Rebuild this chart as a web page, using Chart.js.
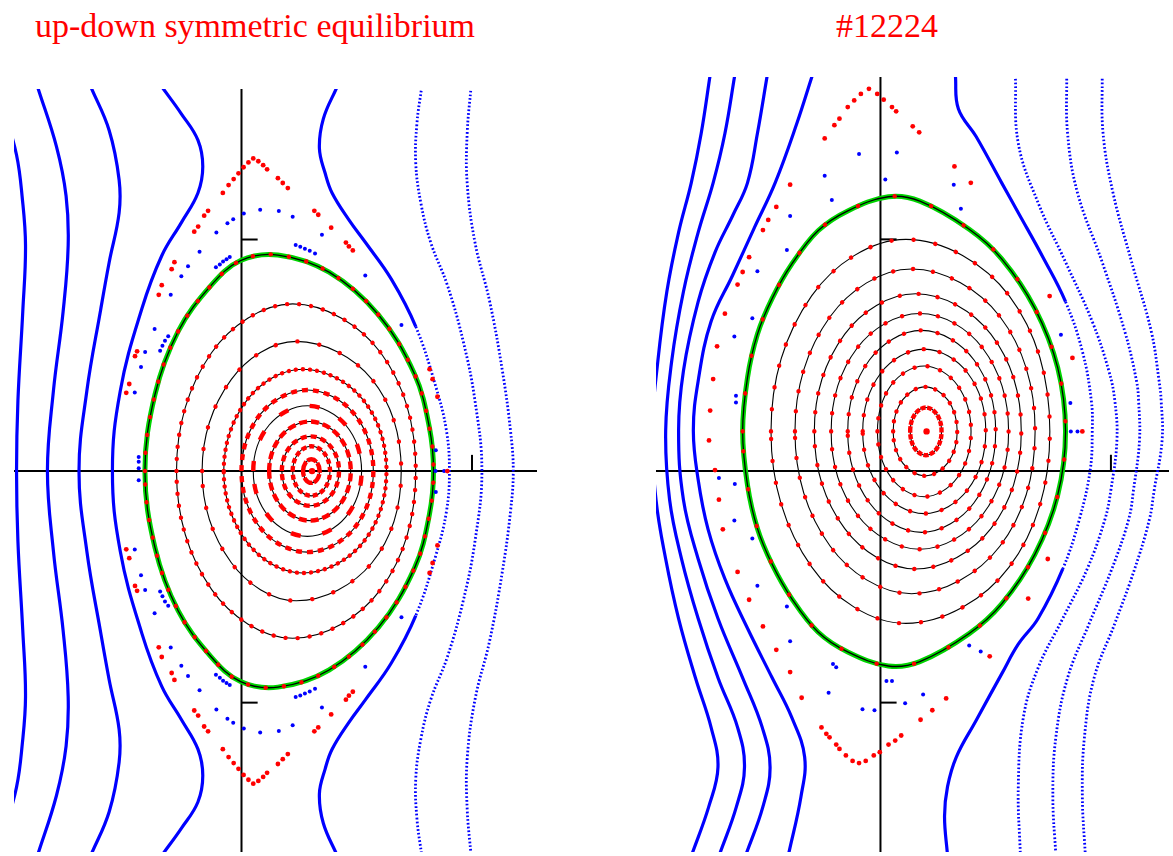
<!DOCTYPE html>
<html lang="en">
<head>
<meta charset="utf-8">
<title>Flux surfaces</title>
<script src="https://cdn.jsdelivr.net/npm/chart.js"></script>
<style>
  body { margin: 0; background: #fff; width: 1173px; height: 856px; position: relative; overflow: hidden; }
  .title { position: absolute; font-family: 'Liberation Serif', serif; font-size: 34px; line-height: 34px; color: #ff0000; white-space: nowrap; }
  canvas { position: absolute; }
</style>
</head>
<body>
<div class="title" style="left:35px;top:9px">up-down symmetric equilibrium</div>
<div class="title" style="left:787px;top:9px;width:200px;text-align:center">#12224</div>
<canvas id="leftChart" width="531" height="771" style="left:10px;top:85px"></canvas>
<canvas id="rightChart" width="521" height="783" style="left:652px;top:73px"></canvas>
<script>
// ---- left panel: up-down symmetric equilibrium ----
const leftRange = { x: [-0.987, 1.282], y: [-1.645, 1.650] };
const leftTickX = [1];
const leftTickY = [1, -1];

const leftLine1 = [[-1.03,1.56],[-0.976,1.365],[-0.952,1.188],[-0.937,0.974],[-0.949,0.688],[-0.970,0.303],[-0.976,0],[-0.970,-0.303],[-0.949,-0.688],[-0.937,-0.974],[-0.952,-1.188],[-0.976,-1.365],[-1.03,-1.56]];
const leftLine2 = [[-0.885,1.660],[-0.803,1.402],[-0.761,1.188],[-0.752,0.974],[-0.774,0.688],[-0.816,0.346],[-0.842,0],[-0.816,-0.346],[-0.774,-0.688],[-0.752,-0.974],[-0.761,-1.188],[-0.803,-1.402],[-0.885,-1.660]];
const leftLine3 = [[-0.654,1.660],[-0.574,1.471],[-0.531,1.258],[-0.531,1.115],[-0.574,0.902],[-0.611,0.697],[-0.671,0.346],[-0.705,0],[-0.671,-0.346],[-0.611,-0.697],[-0.574,-0.902],[-0.531,-1.115],[-0.531,-1.258],[-0.574,-1.471],[-0.654,-1.660]];
const leftLine4 = [[-0.346,1.660],[-0.261,1.543],[-0.189,1.429],[-0.168,1.315],[-0.189,1.201],[-0.261,1.073],[-0.346,0.930],[-0.432,0.702],[-0.526,0.346],[-0.560,0],[-0.526,-0.346],[-0.432,-0.702],[-0.346,-0.930],[-0.261,-1.073],[-0.189,-1.201],[-0.168,-1.315],[-0.189,-1.429],[-0.261,-1.543],[-0.346,-1.660]];
const leftOuter1 = [[0.415,1.660],[0.355,1.521],[0.338,1.393],[0.363,1.286],[0.393,1.201],[0.466,1.085],[0.538,0.987],[0.650,0.829],[0.756,0.624],[0.842,0.368],[0.889,0.175],[0.902,0],[0.889,-0.175],[0.842,-0.368],[0.756,-0.624],[0.650,-0.829],[0.538,-0.987],[0.466,-1.085],[0.393,-1.201],[0.363,-1.286],[0.338,-1.393],[0.355,-1.521],[0.415,-1.660]];
const leftOuter2 = [[0.782,1.660],[0.761,1.500],[0.756,1.329],[0.778,1.158],[0.821,0.987],[0.893,0.803],[0.962,0.560],[1.013,0.303],[1.043,0],[1.013,-0.303],[0.962,-0.560],[0.893,-0.803],[0.821,-0.987],[0.778,-1.158],[0.756,-1.329],[0.761,-1.500],[0.782,-1.660]];
const leftOuter3 = [[0.996,1.660],[0.979,1.457],[0.979,1.244],[1.013,0.987],[1.077,0.731],[1.132,0.432],[1.167,0.175],[1.179,0],[1.167,-0.175],[1.132,-0.432],[1.077,-0.731],[1.013,-0.987],[0.979,-1.244],[0.979,-1.457],[0.996,-1.660]];

const leftBoundary = [[-0.419,0],[-0.375,0.332],[-0.275,0.603],[-0.132,0.802],[-0.004,0.909],[0.158,0.933],[0.380,0.859],[0.594,0.675],[0.751,0.418],[0.815,0.189],[0.833,0],[0.815,-0.189],[0.751,-0.418],[0.594,-0.675],[0.380,-0.859],[0.158,-0.933],[-0.004,-0.909],[-0.132,-0.802],[-0.275,-0.603],[-0.375,-0.332]];

const leftRingI = [[0.267,0],[0.278,0.036],[0.303,0.051],[0.328,0.036],[0.339,0],[0.328,-0.036],[0.303,-0.051],[0.278,-0.036]];
const leftRingJ = [[0.222,0],[0.246,0.076],[0.303,0.107],[0.360,0.076],[0.384,0],[0.360,-0.076],[0.303,-0.107],[0.246,-0.076]];
const leftRingH = [[0.175,0],[0.211,0.106],[0.299,0.150],[0.387,0.106],[0.423,0],[0.387,-0.106],[0.299,-0.150],[0.211,-0.106]];
const leftRingG = [[0.120,0],[0.172,0.151],[0.297,0.214],[0.422,0.151],[0.474,0],[0.422,-0.151],[0.297,-0.214],[0.172,-0.151]];
const leftRingE = [[0.051,0],[0.120,0.199],[0.286,0.282],[0.452,0.199],[0.521,0],[0.452,-0.199],[0.286,-0.282],[0.120,-0.199]];
const leftRingD = [[0.000,0],[0.084,0.248],[0.286,0.350],[0.488,0.248],[0.572,0],[0.488,-0.248],[0.286,-0.350],[0.084,-0.248]];
const leftRingC = [[-0.077,0],[0.027,0.311],[0.266,0.440],[0.525,0.311],[0.629,0],[0.525,-0.311],[0.266,-0.440],[0.027,-0.311]];
const leftRingB = [[-0.171,0],[-0.044,0.396],[0.238,0.560],[0.566,0.396],[0.693,0],[0.566,-0.396],[0.238,-0.560],[-0.044,-0.396]];
const leftRingA = [[-0.282,0],[-0.130,0.511],[0.222,0.722],[0.604,0.511],[0.756,0],[0.604,-0.511],[0.222,-0.722],[-0.130,-0.511]];
const leftAxisPoint = [[0.306,0]];

const leftRedPoints = [
  [0.051,1.350],[0.030,1.333],[0.009,1.312],[-0.013,1.286],[-0.034,1.261],[-0.056,1.235],[-0.081,1.201],
  [0.073,1.338],[0.094,1.321],[0.111,1.303],[0.158,1.265],[0.179,1.244],[0.201,1.222],
  [0.316,1.124],[0.333,1.107],[0.389,1.051],[0.453,0.987],[0.466,0.970],[0.483,0.953],
  [0.816,0.440],[0.829,0.397],[0.850,0.321],
  [-0.145,1.124],[-0.162,1.103],[-0.188,1.056],[-0.205,1.034],
  [-0.291,0.902],[-0.303,0.872],[-0.346,0.803],[-0.359,0.761],
  [-0.453,0.517],[-0.462,0.496],[-0.487,0.376],[-0.500,0.338],
  [0.893,0],
  [0.051,-1.350],[0.030,-1.333],[0.009,-1.312],[-0.013,-1.286],[-0.034,-1.261],[-0.056,-1.235],[-0.081,-1.201],
  [0.073,-1.338],[0.094,-1.321],[0.111,-1.303],[0.158,-1.265],[0.179,-1.244],[0.201,-1.222],
  [0.316,-1.124],[0.333,-1.107],[0.389,-1.051],[0.453,-0.987],[0.466,-0.970],[0.483,-0.953],
  [0.816,-0.440],[0.829,-0.397],[0.850,-0.321],
  [-0.145,-1.124],[-0.162,-1.103],[-0.188,-1.056],[-0.205,-1.034],
  [-0.291,-0.902],[-0.303,-0.872],[-0.346,-0.803],[-0.359,-0.761],
  [-0.453,-0.517],[-0.462,-0.496],[-0.487,-0.376],[-0.500,-0.338]
];
const leftBluePoints = [
  [0.010,1.112],[0.081,1.129],[0.162,1.123],[0.222,1.098],[0.349,1.021],[0.537,0.845],[0.694,0.631],[0.843,0.090],
  [-0.036,1.087],[-0.061,1.070],[-0.109,1.030],[-0.182,0.947],[-0.232,0.885],[-0.261,0.841],[-0.307,0.762],
  [-0.377,0.614],[-0.418,0.514],[-0.436,0.450],[-0.463,0.339],[-0.446,0.061],[-0.446,0.040],[-0.446,0.012],
  [0.235,0.976],[0.255,0.969],[0.275,0.960],[0.296,0.952],[0.319,0.940],
  [-0.111,0.880],[-0.094,0.892],[-0.080,0.905],[-0.065,0.915],[-0.051,0.924],
  [-0.318,0.582],[-0.332,0.563],[-0.343,0.541],[-0.353,0.520],
  [0.842,0],[0.879,0],
  [0.010,-1.112],[0.081,-1.129],[0.162,-1.123],[0.222,-1.098],[0.349,-1.021],[0.537,-0.845],[0.694,-0.631],[0.843,-0.090],
  [-0.036,-1.087],[-0.061,-1.070],[-0.109,-1.030],[-0.182,-0.947],[-0.232,-0.885],[-0.261,-0.841],[-0.307,-0.762],
  [-0.377,-0.614],[-0.418,-0.514],[-0.436,-0.450],[-0.463,-0.339],[-0.446,-0.040],
  [0.235,-0.976],[0.255,-0.969],[0.275,-0.960],[0.296,-0.952],[0.319,-0.940],
  [-0.111,-0.880],[-0.094,-0.892],[-0.080,-0.905],[-0.065,-0.915],[-0.051,-0.924],
  [-0.318,-0.582],[-0.332,-0.563],[-0.343,-0.541],[-0.353,-0.520]
];

// ---- right panel: #12224 ----
const rightRange = { x: [-0.974, 1.252], y: [-1.645, 1.701] };
const rightTickX = [1];
const rightTickY = [1, -1];

const rightLine1 = [[-0.739,1.710],[-0.778,1.457],[-0.821,1.244],[-0.876,1.030],[-0.927,0.774],[-0.966,0.474],[-0.991,0.175],[-0.974,-0.124],[-0.932,-0.380],[-0.876,-0.637],[-0.803,-0.893],[-0.735,-1.107],[-0.705,-1.278],[-0.745,-1.449],[-0.820,-1.660]];
const rightLine2 = [[-0.632,1.710],[-0.675,1.457],[-0.726,1.244],[-0.791,1.030],[-0.855,0.774],[-0.906,0.474],[-0.932,0.175],[-0.915,-0.124],[-0.863,-0.380],[-0.791,-0.637],[-0.705,-0.893],[-0.620,-1.107],[-0.590,-1.278],[-0.625,-1.449],[-0.700,-1.660]];
const rightLine3 = [[-0.491,1.710],[-0.534,1.457],[-0.577,1.244],[-0.641,1.103],[-0.718,0.944],[-0.791,0.731],[-0.855,0.432],[-0.876,0.175],[-0.855,-0.124],[-0.791,-0.380],[-0.705,-0.637],[-0.598,-0.893],[-0.513,-1.107],[-0.479,-1.278],[-0.510,-1.449],[-0.585,-1.660]];
const rightLine4 = [[-0.295,1.710],[-0.363,1.500],[-0.457,1.244],[-0.547,1.051],[-0.641,0.846],[-0.735,0.645],[-0.791,0.389],[-0.812,0.175],[-0.791,-0.038],[-0.748,-0.252],[-0.675,-0.466],[-0.577,-0.679],[-0.470,-0.893],[-0.385,-1.064],[-0.329,-1.235],[-0.345,-1.406],[-0.400,-1.660]];
const rightOuter1 = [[0.325,1.710],[0.338,1.564],[0.415,1.444],[0.526,1.244],[0.598,1.115],[0.705,0.923],[0.803,0.731],[0.876,0.517],[0.915,0.303],[0.919,0.175],[0.910,0.004],[0.863,-0.209],[0.791,-0.423],[0.684,-0.637],[0.598,-0.748],[0.526,-0.876],[0.415,-1.077],[0.329,-1.235],[0.291,-1.363],[0.278,-1.491],[0.291,-1.660]];
const rightOuter2 = [[0.585,1.710],[0.598,1.415],[0.684,1.158],[0.803,0.902],[0.919,0.645],[0.991,0.432],[1.017,0.303],[1.026,0.132],[1.000,-0.081],[0.974,-0.209],[0.897,-0.423],[0.791,-0.637],[0.684,-0.850],[0.620,-1.064],[0.598,-1.363],[0.607,-1.660]];
const rightOuter3 = [[0.808,1.710],[0.812,1.457],[0.855,1.201],[0.962,0.902],[1.060,0.603],[1.111,0.389],[1.120,0.303],[1.124,0.132],[1.098,-0.081],[1.077,-0.209],[1.004,-0.423],[0.906,-0.658],[0.812,-0.893],[0.761,-1.150],[0.748,-1.406],[0.761,-1.660]];
const rightOuter4 = [[0.962,1.710],[0.966,1.457],[1.009,1.201],[1.090,0.902],[1.175,0.603],[1.209,0.389],[1.218,0.303],[1.222,0.132],[1.188,-0.081],[1.167,-0.209],[1.103,-0.423],[1.017,-0.658],[0.927,-0.893],[0.885,-1.150],[0.876,-1.406],[0.889,-1.660]];

const rightBoundary = [[-0.598,0.171],[-0.577,0.403],[-0.534,0.590],[-0.470,0.745],[-0.385,0.893],[-0.271,1.037],[-0.142,1.123],[0.034,1.184],[0.171,1.165],[0.385,1.044],[0.526,0.916],[0.670,0.702],[0.769,0.446],[0.803,0.171],[0.769,-0.104],[0.670,-0.360],[0.526,-0.574],[0.385,-0.702],[0.171,-0.823],[0.034,-0.842],[-0.142,-0.781],[-0.271,-0.695],[-0.385,-0.551],[-0.470,-0.403],[-0.534,-0.248],[-0.577,-0.061]];

const rightRing0 = [[0.129,0.171],[0.149,0.244],[0.197,0.274],[0.245,0.244],[0.265,0.171],[0.245,0.098],[0.197,0.068],[0.149,0.098]];
const rightRing1 = [[0.055,0.171],[0.096,0.307],[0.194,0.363],[0.292,0.307],[0.333,0.171],[0.292,0.035],[0.194,-0.021],[0.096,0.035]];
const rightRing2 = [[-0.013,0.171],[0.046,0.370],[0.190,0.453],[0.334,0.370],[0.393,0.171],[0.334,-0.028],[0.190,-0.111],[0.046,-0.028]];
const rightRing3 = [[-0.077,0.171],[0.001,0.422],[0.190,0.526],[0.379,0.422],[0.457,0.171],[0.379,-0.080],[0.190,-0.184],[0.001,-0.080]];
const rightRing4 = [[-0.142,0.171],[-0.048,0.479],[0.179,0.607],[0.406,0.479],[0.500,0.171],[0.406,-0.137],[0.179,-0.265],[-0.048,-0.137]];
const rightRing5 = [[-0.214,0.171],[-0.101,0.531],[0.171,0.680],[0.443,0.531],[0.556,0.171],[0.443,-0.189],[0.171,-0.338],[-0.101,-0.189]];
const rightRing6 = [[-0.287,0.171],[-0.155,0.591],[0.152,0.765],[0.479,0.591],[0.611,0.171],[0.479,-0.249],[0.152,-0.423],[-0.155,-0.249]];
const rightRing7 = [[-0.371,0.171],[-0.218,0.667],[0.135,0.872],[0.518,0.667],[0.671,0.171],[0.518,-0.325],[0.135,-0.530],[-0.218,-0.325]];
const rightRing8 = [[-0.475,0.171],[-0.298,0.757],[0.110,1.000],[0.558,0.757],[0.735,0.171],[0.558,-0.415],[0.110,-0.658],[-0.298,-0.415]];
const rightAxisPoint = [[0.200,0.171]];

const rightRedPoints = [
  [-0.050,1.650],[-0.085,1.628],[-0.114,1.600],[-0.142,1.571],[-0.178,1.521],[-0.200,1.493],[-0.242,1.436],
  [-0.014,1.628],[0.014,1.603],[0.050,1.571],[0.068,1.553],[0.140,1.488],[0.168,1.462],[0.321,1.315],[0.392,1.244],
  [-0.392,1.236],[-0.452,1.140],[-0.487,1.084],[-0.510,1.040],[-0.570,0.923],[-0.598,0.859],[-0.620,0.805],
  [-0.675,0.679],[-0.709,0.538],[-0.726,0.397],[-0.739,0.261],[-0.744,0.132],
  [0.734,0.755],[0.833,0.488],[0.876,0.171],
  [-0.256,-1.107],[-0.235,-1.135],[-0.221,-1.150],[-0.192,-1.181],[-0.178,-1.200],[-0.150,-1.228],[-0.121,-1.252],
  [-0.093,-1.261],[-0.064,-1.252],[-0.029,-1.228],[-0.003,-1.214],[0.035,-1.181],[0.064,-1.164],[0.090,-1.142],
  [0.174,-1.074],[0.225,-1.033],[0.285,-0.982],[0.474,-0.800],
  [-0.718,0.004],[-0.701,-0.124],[-0.684,-0.252],[-0.620,-0.436],[-0.570,-0.556],[-0.510,-0.671],
  [-0.452,-0.772],[-0.392,-0.868],[-0.342,-0.979],
  [0.726,-0.380],[0.641,-0.551]
];
const rightBluePoints = [
  [-0.093,1.369],[0.071,1.375],[-0.242,1.275],[0.021,1.258],[0.318,1.236],[-0.211,1.170],[0.349,1.132],
  [-0.392,1.101],[-0.406,0.954],[-0.534,0.862],[-0.556,0.659],[-0.634,0.581],[-0.627,0.325],[-0.627,0.296],
  [0.783,0.588],[0.824,0.294],[0.826,0.171],[0.855,0.171],
  [-0.206,-0.833],[-0.192,-0.847],[0.026,-0.907],[0.050,-0.907],[-0.225,-0.957],[-0.078,-1.029],[-0.026,-1.033],
  [0.107,-1.003],[0.185,-0.965],[0.385,-0.753],[0.435,-0.779],
  [-0.634,-0.214],[-0.556,-0.291],[-0.534,-0.496],[-0.406,-0.585],[-0.392,-0.735],[-0.701,-0.030],[-0.632,-0.056]
];

// ---- drawing ----
const BLUE = '#0000ff', RED = '#ff0000', GREEN = '#00d400', BLACK = '#000000';
const TICK = 0.07;
const DOTTED = [1.7, 2.1];

const xy = a => a.map(p => ({ x: p[0], y: p[1] }));

function line(data, color, width, extra) {
  return Object.assign({
    data: xy(data), showLine: true, borderColor: color, borderWidth: width,
    pointRadius: 0, tension: 0.4, fill: false
  }, extra || {});
}

// closed curve: wrap one point on each side and hide the two extra segments
function closed(ring, color, width, extra) {
  const n = ring.length;
  const wrapped = [ring[n - 1], ...ring, ring[0], ring[1]];
  return line(wrapped, color, width, Object.assign({
    tension: 0.37,
    segment: {
      borderColor: c => (c.p0DataIndex === 0 || c.p0DataIndex === n + 1) ? 'rgba(0,0,0,0)' : undefined
    }
  }, extra || {}));
}

function dots(data, color, r, order) {
  return { data: xy(data), showLine: false, pointRadius: r, pointBackgroundColor: color,
           pointBorderWidth: 0, pointStyle: 'circle', order: order };
}

function panel(p) {
  const ds = [];
  const [x0, x1] = p.range.x, [y0, y1] = p.range.y;
  ds.push(line([[x0, 0], [x1, 0]], BLACK, 2, { tension: 0, order: 7 }));
  ds.push(line([[0, y0], [0, y1]], BLACK, 2, { tension: 0, order: 7 }));
  p.tickX.forEach(t => ds.push(line([[t, 0], [t, TICK]], BLACK, 2, { tension: 0, order: 7 })));
  p.tickY.forEach(t => ds.push(line([[0, t], [TICK, t]], BLACK, 2, { tension: 0, order: 7 })));

  p.solid.forEach(c => ds.push(line(c, BLUE, 3.2, { order: 6 })));
  p.dotted.forEach(c => ds.push(line(c, BLUE, 2.8, { order: 6, borderDash: DOTTED })));
  p.mixed.forEach(m => {
    const inBand = c => {
      const a = m.curve[c.p0DataIndex][1], b = m.curve[c.p1DataIndex][1];
      return a > m.band[0] && a < m.band[1] && b > m.band[0] && b < m.band[1];
    };
    ds.push(line(m.curve, BLUE, 3.2, { order: 6, segment: {
      borderDash: c => inBand(c) ? DOTTED : undefined,
      borderWidth: c => inBand(c) ? 2.8 : undefined
    } }));
  });

  p.rings.forEach((r, i) => {
    ds.push(closed(r, BLACK, 1.1, { order: 5 }));
    const d = p.ringDots[i];
    if (d) ds.push(closed(r, RED, 4.4, { order: 2, borderDash: d, borderCapStyle: d[0] < 1 ? 'round' : 'butt' }));
  });
  ds.push(closed(p.boundary, GREEN, 5, { order: 4.1 }));
  ds.push(closed(p.boundary, BLACK, 1.3, { order: 4 }));
  ds.push(closed(p.boundary, RED, 4.4, { order: 2, borderDash: p.boundaryDots, borderCapStyle: 'round' }));

  ds.push(dots(p.red, RED, 2.4, 1));
  ds.push(dots(p.blue, BLUE, 2.0, 1));
  ds.push(dots(p.axis, RED, 3.2, 0));
  return ds;
}

function makeChart(id, p) {
  return new Chart(document.getElementById(id).getContext('2d'), {
    type: 'scatter',
    data: { datasets: panel(p) },
    options: {
      responsive: false, animation: false, events: [],
      layout: { padding: 0 },
      plugins: { legend: { display: false }, tooltip: { enabled: false } },
      elements: { line: { capBezierPoints: false, borderJoinStyle: 'round' }, point: { hitRadius: 0 } },
      scales: {
        x: { type: 'linear', min: p.range.x[0], max: p.range.x[1], display: false },
        y: { type: 'linear', min: p.range.y[0], max: p.range.y[1], display: false }
      }
    }
  });
}

makeChart('leftChart', {
  range: leftRange, tickX: leftTickX, tickY: leftTickY,
  solid: [leftLine1, leftLine2, leftLine3, leftLine4],
  dotted: [leftOuter2, leftOuter3],
  mixed: [{ curve: leftOuter1, band: [-0.75, 0.75] }],
  boundary: leftBoundary, boundaryDots: [0.1, 18],
  rings: [leftRingI, leftRingJ, leftRingH, leftRingG, leftRingE, leftRingD, leftRingC, leftRingB, leftRingA],
  ringDots: [[10, 1.5], [5, 3], [6, 4], [8, 4], [10, 22], [6, 5], [0.1, 7], [0.1, 22], [0.1, 12]],
  red: leftRedPoints, blue: leftBluePoints, axis: leftAxisPoint
});

makeChart('rightChart', {
  range: rightRange, tickX: rightTickX, tickY: rightTickY,
  solid: [rightLine1, rightLine2, rightLine3, rightLine4],
  dotted: [rightOuter2, rightOuter3, rightOuter4],
  mixed: [{ curve: rightOuter1, band: [-0.6, 0.75] }],
  boundary: rightBoundary, boundaryDots: [0.1, 38],
  rings: [rightRing0, rightRing1, rightRing2, rightRing3, rightRing4, rightRing5, rightRing6, rightRing7, rightRing8],
  ringDots: [[5, 1.5], [0.1, 10], [0.1, 13], [0.1, 16], [0.1, 17], [0.1, 18], [0.1, 19], [0.1, 20], [0.1, 22]],
  red: rightRedPoints, blue: rightBluePoints, axis: rightAxisPoint
});
</script>
</body>
</html>
